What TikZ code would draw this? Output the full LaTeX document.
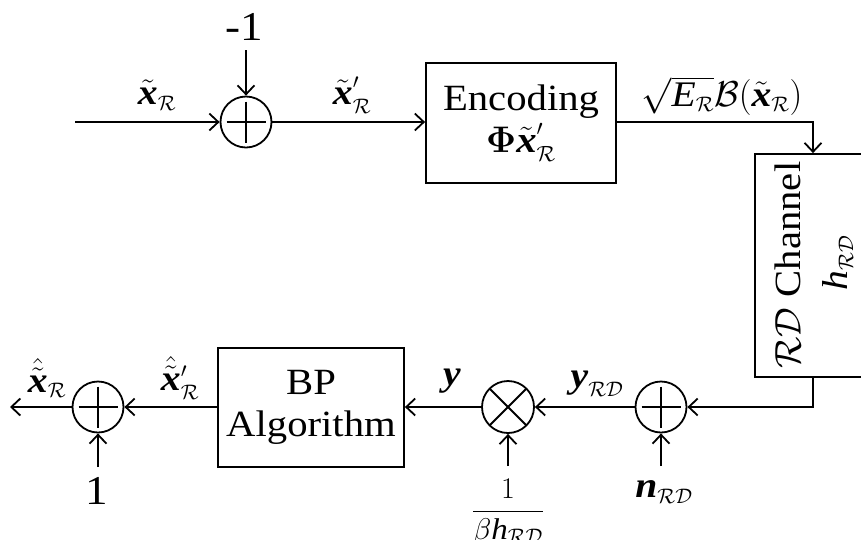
\RequirePackage{fix-cm}
\documentclass[tikz,border=0pt]{standalone}
\usepackage{amsmath}
\usepackage{fontspec}
\setmainfont{Liberation Serif}[FakeStretch=1.1]
\usetikzlibrary{arrows.meta}
\DeclareMathSizes{36}{36}{21}{15}
\DeclareMathSizes{37}{37}{22}{15}
\newcommand{\bix}[1]{\text{\bfseries\itshape #1}}
\newcommand{\tit}[1]{\text{\itshape #1}}
\newcommand{\calR}{\mathcal{R}}
\newcommand{\calRD}{\mathcal{R}\mathcal{D}}
\begin{document}
\begin{tikzpicture}[x=1pt,y=-1pt,
  line width=1.8pt,
  every node/.style={font=\fontsize{37}{42}\selectfont, inner sep=0pt},
  arr/.style={-{Straight Barb[length=9pt,width=17pt,line width=1.8pt]}},
  blk/.style={draw, rectangle, align=center, line width=1.8pt},
  sumnode/.style={draw, circle, minimum size=51pt, inner sep=0pt, line width=1.8pt,
    path picture={\draw[line width=1.8pt] ([xshift=6pt]path picture bounding box.west) -- ([xshift=-6pt]path picture bounding box.east);
                  \draw[line width=1.8pt] ([yshift=-5pt]path picture bounding box.north) -- ([yshift=5pt]path picture bounding box.south);}},
  mulnode/.style={draw, circle, minimum size=52pt, inner sep=0pt, line width=1.8pt,
    path picture={\draw[line width=1.8pt] ([xshift=8pt,yshift=-8pt]path picture bounding box.north west) -- ([xshift=-8pt,yshift=8pt]path picture bounding box.south east);
                  \draw[line width=1.8pt] ([xshift=-8pt,yshift=-8pt]path picture bounding box.north east) -- ([xshift=8pt,yshift=8pt]path picture bounding box.south west);}},
  lbl/.style={font=\fontsize{36}{40}\selectfont},
  num/.style={font=\fontsize{41}{45}\selectfont}
]
\useasboundingbox (0,0) rectangle (861,539);

% top row
\node[sumnode] (add1) at (246,122) {};
\node[blk, minimum width=190pt, minimum height=120pt] (enc) at (521,123)
  {Encoding\\[0pt] $\text{\bfseries\boldmath$\Phi$}\tilde{\bix{x}}'_{\calR}$};
\node[blk, minimum width=125pt, minimum height=223pt] (chan) at (817.5,265.5) {};
\node[rotate=90] (chtxt) at (788,265) {$\calRD$ Channel};
\node[rotate=90, lbl] (chh) at (838,263) {$\tit{h}_{\calRD}$};

\coordinate (in1) at (75,122);
\coordinate (m1) at (246,50);
\coordinate (chx) at (813,0);
\node[num] (m1lbl) at (244,27) {-1};

\draw[arr] (in1) -- (add1.west);
\draw[arr] (m1) -- (add1.north);
\draw[arr] (add1.east) -- (enc.west |- add1.east);
\draw[arr] (enc.east |- add1) -| (chx |- chan.north);

\node[lbl] (lx) at (157,95) {$\tilde{\bix{x}}_{\calR}$};
\node[lbl] (lxp) at (352,95) {$\tilde{\bix{x}}'_{\calR}$};
\node[lbl] (lenc) at (722,96) {$\sqrt{\tit{E}_{\calR}}\mathcal{B}(\tilde{\bix{x}}_{\calR})$};

% bottom row
\node[sumnode] (add2) at (661,407) {};
\node[mulnode] (mul) at (508,407) {};
\node[blk, minimum width=186pt, minimum height=119pt] (bp) at (311,407.5) {BP\\[0pt]Algorithm};
\node[sumnode] (add3) at (98,407) {};

\coordinate (nin) at (661,466);
\coordinate (fin) at (508,466);
\coordinate (oin) at (98,467);
\coordinate (out) at (10,407);

\draw[arr] (chx |- chan.south) |- (add2.east);
\draw[arr] (nin) -- (add2.south);
\draw[arr] (add2.west) -- (mul.east);
\draw[arr] (fin) -- (mul.south);
\draw[arr] (mul.west) -- (bp.east |- mul.west);
\draw[arr] (bp.west |- add3) -- (add3.east);
\draw[arr] (oin) -- (add3.south);
\draw[arr] (add3.west) -- (out);

\node[lbl] (lyrd) at (597,384) {$\bix{y}_{\calRD}$};
\node[lbl] (ly) at (452,381) {$\bix{y}$};
\node[lbl] (lxhp) at (180,378) {$\hat{\tilde{\bix{x}}}'_{\calR}$};
\node[lbl] (lxh) at (47,378) {$\hat{\tilde{\bix{x}}}_{\calR}$};
\node[num] (lone) at (97,491) {1};
\node[lbl] (ln) at (664,492) {$\bix{n}_{\calRD}$};
\node[font=\fontsize{30}{34}\selectfont] (lfrac) at (508,512) {$\dfrac{1}{\beta \tit{h}_{\calRD}}$};
\end{tikzpicture}
\end{document}
